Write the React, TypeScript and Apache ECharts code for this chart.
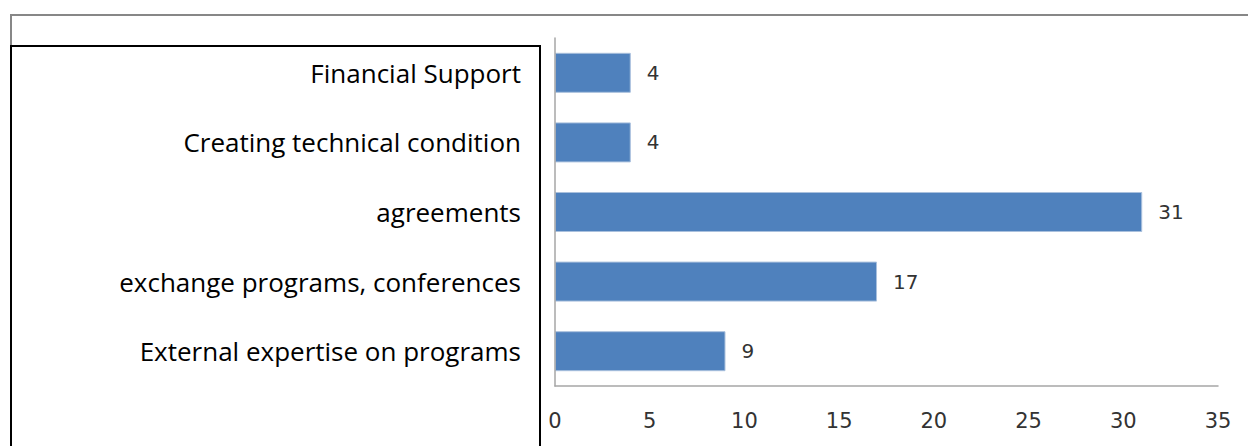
import React, { useEffect, useRef } from "react";
import * as echarts from "echarts";

const categories = [
  "External expertise on programs",
  "exchange programs, conferences",
  "agreements",
  "Creating technical condition",
  "Financial Support",
];
const values = [9, 17, 31, 4, 4];
const xTicks = { min: 0, max: 35, interval: 5 };

export default function App() {
  const ref = useRef<HTMLDivElement>(null);
  useEffect(() => {
    document.body.style.margin = "0";
    const chart = echarts.init(ref.current!, undefined, { renderer: "svg" });
    chart.setOption({
      animation: false,
      backgroundColor: "#ffffff",
      grid: { left: 555, right: 30, top: 38, bottom: 60, containLabel: false },
      graphic: [
        {
          type: "polyline",
          shape: { points: [[11, 46], [11, 15], [1248, 15]] },
          style: { stroke: "#878787", lineWidth: 2, fill: "none" },
          z: 0,
        },
        {
          type: "rect",
          shape: { x: 11, y: 46, width: 529, height: 420 },
          style: { stroke: "#000000", lineWidth: 2, fill: "#ffffff" },
          z: 0,
        },
      ],
      xAxis: {
        type: "value",
        min: xTicks.min,
        max: xTicks.max,
        interval: xTicks.interval,
        axisLine: { show: true, lineStyle: { color: "#a6a6a6", width: 1.5 } },
        axisTick: { show: false },
        splitLine: { show: false },
        axisLabel: {
          color: "#333333",
          fontFamily: "DejaVu Sans",
          fontSize: 21,
          margin: 24,
        },
      },
      yAxis: {
        type: "category",
        data: categories,
        axisLine: { show: true, lineStyle: { color: "#a6a6a6", width: 1.5 } },
        axisTick: { show: false },
        axisLabel: {
          color: "#000000",
          fontFamily: "Open Sans",
          fontSize: 26,
          margin: 34,
        },
        z: 5,
      },
      series: [
        {
          type: "bar",
          data: values,
          barWidth: 40,
          itemStyle: { color: "#4f81bd", borderColor: "#a9c0dd", borderWidth: 1 },
          label: {
            show: true,
            position: "right",
            distance: 16,
            color: "#333333",
            fontFamily: "DejaVu Sans",
            fontSize: 20,
          },
        },
      ],
    });
    return () => chart.dispose();
  }, []);
  return (
    <div
      ref={ref}
      style={{ position: "absolute", left: 0, top: 0, width: 1248, height: 446 }}
    />
  );
}
